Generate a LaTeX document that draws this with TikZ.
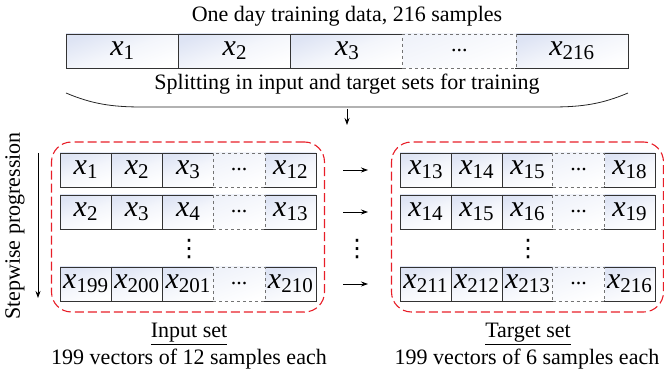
\documentclass[tikz,border=0pt]{standalone}
\usepackage{fontspec}
\setmainfont{Liberation Serif}
\newfontfamily\symfont{DejaVu Sans}
\usetikzlibrary{positioning, arrows.meta, fit}

\definecolor{cellblue}{RGB}{222,228,244}
\definecolor{setred}{RGB}{232,30,40}

\tikzset{
  cell/.style={draw=black!80, line width=0.7pt, top color=cellblue, bottom color=white,
    middle color=cellblue!35, shading angle=20, minimum height=34pt, inner sep=0pt, outer sep=0pt},
  gapcell/.style={draw=black!55, dashed, line width=0.7pt, top color=cellblue!45, bottom color=white,
    shading angle=20, minimum height=34pt, inner sep=0pt, outer sep=0pt},
  setbox/.style={draw=setred, line width=1.1pt, dash pattern=on 9pt off 4pt,
    rounded corners=20pt, inner xsep=8.5pt, inner ysep=11pt},
  vdotsnode/.style={font=\symfont\fontsize{24}{24}\selectfont, inner sep=0pt},
}

% sample x_i
\newcommand{\xs}[1]{{\fontsize{30}{30}\selectfont\itshape x}\raisebox{-4pt}{\fontsize{21}{21}\selectfont #1}}

% one row of five cells: name, west point, width, four labels
\newcommand{\vecrow}[7]{%
  \node[cell, minimum width=#3, anchor=west] (#1-1) at #2 {#4};
  \node[cell, minimum width=#3, right=0pt of #1-1] (#1-2) {#5};
  \node[cell, minimum width=#3, right=0pt of #1-2] (#1-3) {#6};
  \node[cell, minimum width=#3, right=#3 of #1-3] (#1-5) {#7};
  \node[gapcell, minimum width=#3+0.8pt, right=-0.4pt of #1-3] (#1-4) {...};
}

\begin{document}
\begin{tikzpicture}[x=1pt,y=-1pt,>={Stealth[length=7pt,width=5pt]},font=\fontsize{22}{25}\selectfont]
  \useasboundingbox (0,0) rectangle (664,379);

  % full day
  \node (title) at (347,16) {One day training data, 216 samples};
  \vecrow{day}{(66,51)}{112.4pt}{\xs{1}}{\xs{2}}{\xs{3}}{\xs{216}}
  \node (split) at (347,84) {Splitting in input and target sets for training};
  \draw[black!85, line width=0.8pt] (66,93) .. controls (92,104) and (112,107) .. (142,107)
    -- (552,107) .. controls (582,107) and (602,104) .. (628,93);
  \coordinate (brace) at (347,109);
  \coordinate (sets) at (347,125);
  \draw[->, line width=0.8pt] (brace) -- (sets);

  % input set
  \vecrow{in1}{(60,170)}{51.2pt}{\xs{1}}{\xs{2}}{\xs{3}}{\xs{12}}
  \vecrow{in2}{(60,212)}{51.2pt}{\xs{2}}{\xs{3}}{\xs{4}}{\xs{13}}
  \vecrow{in3}{(60,284)}{51.2pt}{\xs{199}}{\xs{200}}{\xs{201}}{\xs{210}}
  \node[vdotsnode] (indots) at (189,249) {⋮};
  \node[setbox, fit=(in1-1)(in3-5)] (inset) {};

  % target set
  \vecrow{tg1}{(400,170)}{51pt}{\xs{13}}{\xs{14}}{\xs{15}}{\xs{18}}
  \vecrow{tg2}{(400,212)}{51pt}{\xs{14}}{\xs{15}}{\xs{16}}{\xs{19}}
  \vecrow{tg3}{(400,284)}{51pt}{\xs{211}}{\xs{212}}{\xs{213}}{\xs{216}}
  \node[vdotsnode] (tgdots) at (528,249) {⋮};
  \node[setbox, fit=(tg1-1)(tg3-5)] (tgset) {};

  % input to target
  \draw[->, line width=0.8pt, shorten <=27pt, shorten >=32pt] (in1-5) -- (tg1-1);
  \draw[->, line width=0.8pt, shorten <=27pt, shorten >=32pt] (in2-5) -- (tg2-1);
  \draw[->, line width=0.8pt, shorten <=27pt, shorten >=32pt] (in3-5) -- (tg3-1);
  \node[vdotsnode] (middots) at (357,249) {⋮};

  % progression
  \node[rotate=90] (stepwise) at (15,226) {Stepwise progression};
  \coordinate (stepa) at (38,153);
  \coordinate (stepb) at (38,298);
  \draw[->, line width=0.8pt] (stepa) -- (stepb);

  % captions
  \node (inname) at (189,334) {\underline{Input set}};
  \node (indesc) at (189,359) {199 vectors of 12 samples each};
  \node (tgname) at (528,334) {\underline{Target set}};
  \node (tgdesc) at (527,359) {199 vectors of 6 samples each};
\end{tikzpicture}
\end{document}
